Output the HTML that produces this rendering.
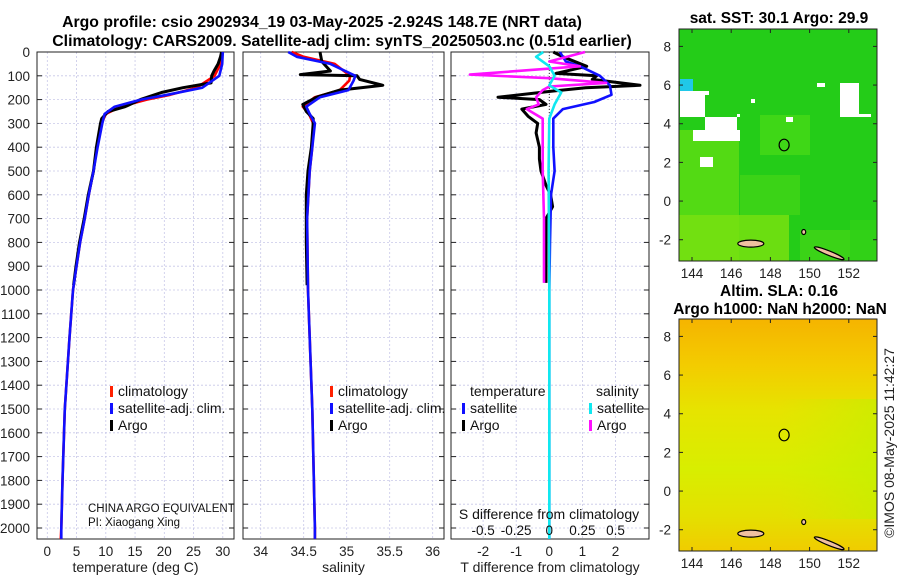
<!DOCTYPE html>
<html><head><meta charset="utf-8">
<style>
body{margin:0;background:#fff;}
svg{font-family:"Liberation Sans","DejaVu Sans",sans-serif;}
</style></head>
<body>
<svg id="c" width="900" height="580" xmlns="http://www.w3.org/2000/svg">
<defs>
<linearGradient id="slaGrad" x1="0" y1="0" x2="0" y2="1">
<stop offset="0" stop-color="#f5b400"/><stop offset="0.2" stop-color="#f3cc00"/><stop offset="0.4" stop-color="#e6e400"/><stop offset="0.65" stop-color="#d8ee00"/><stop offset="0.85" stop-color="#e4e000"/><stop offset="1" stop-color="#f0cc00"/>
</linearGradient>
<linearGradient id="slaRight" x1="0" y1="0" x2="1" y2="0">
<stop offset="0" stop-color="#c8f000" stop-opacity="0"/><stop offset="1" stop-color="#c0f000" stop-opacity="0.6"/>
</linearGradient>
</defs>
<text x="322" y="27" text-anchor="middle" font-size="15.8" font-weight="bold">Argo profile: csio 2902934_19 03-May-2025 -2.924S 148.7E (NRT data)</text>
<text x="342" y="46" text-anchor="middle" font-size="15.8" font-weight="bold">Climatology: CARS2009. Satellite-adj clim: synTS_20250503.nc (0.51d earlier)</text>
<text x="779" y="23" text-anchor="middle" font-size="15.5" font-weight="bold">sat. SST: 30.1 Argo: 29.9</text>
<text x="779" y="296" text-anchor="middle" font-size="15.5" font-weight="bold">Altim. SLA: 0.16</text>
<text x="780" y="314" text-anchor="middle" font-size="15.5" font-weight="bold">Argo h1000: NaN h2000: NaN</text>
<text transform="translate(894,443) rotate(-90)" text-anchor="middle" font-size="14" fill="#222">©IMOS 08-May-2025 11:42:27</text>
<g id="g"></g>
</svg>
<script>
// ---- data ----
const depthTicks=[0,100,200,300,400,500,600,700,800,900,1000,1100,1200,1300,1400,1500,1600,1700,1800,1900,2000];
const tempTicks=[0,5,10,15,20,25,30];
const salTicks=[34,34.5,35,35.5,36];
const diffTicks=[-2,-1,0,1,2];
const sdiffTicks=[-0.5,-0.25,0,0.25,0.5];
const sdiffLabels=["-0.5","-0.25","0","0.25","0.5"];

const argoDepth=[0,20,50,80,100,130,150,170,200,230,250,280,300,400,500,600,700,800,900,980];
const argoTemp=[29.8,29.6,29.2,28.5,28.1,28.0,23.2,19.5,15.9,13.3,10.4,9.3,9.1,8.4,7.9,7.0,6.3,5.5,4.9,4.5];
const climDepth=[0,50,100,150,180,200,230,260,300,400,500,600,700,800,900,1000,1200,1500,1800,2000,2046];
const climTemp=[29.9,29.6,28.6,25.5,21,17,12.5,10,9.3,8.5,7.9,7.1,6.4,5.6,5.0,4.4,3.8,3.0,2.6,2.4,2.3];
const satTemp=[30.0,29.9,29.4,26.5,20.5,16,11.5,9.8,9.4,8.6,7.9,7.1,6.4,5.6,5.0,4.4,3.8,3.0,2.6,2.4,2.4];

const argoSalDepth=[0,40,80,95,100,115,140,160,190,220,250,280,300,400,500,600,800,980];
const argoSal=[34.69,34.71,34.81,34.46,35.12,35.15,35.42,34.92,34.65,34.49,34.53,34.61,34.61,34.59,34.55,34.53,34.53,34.54];
const salDepth=[0,20,50,100,120,160,190,230,260,300,400,500,700,1000,1200,1500,2000,2046];
const climSal=[34.36,34.5,34.86,35.04,35.03,34.92,34.63,34.49,34.56,34.61,34.60,34.57,34.54,34.55,34.57,34.60,34.63,34.63];
const satSal=[34.32,34.42,34.81,35.10,35.08,35.02,34.69,34.53,34.57,34.63,34.60,34.57,34.54,34.55,34.57,34.60,34.63,34.63];

const tdArgoDepth=[0,20,60,90,100,115,140,150,165,190,200,220,240,270,300,340,400,450,500,560,600,650,700,900,970];
const tdArgo=[0.12,0.41,1.13,0.2,1.43,1.3,2.74,1.1,0.05,-1.55,-0.3,-0.1,-0.83,-0.64,-0.35,-0.4,-0.3,-0.3,-0.25,-0.1,0.04,0.1,-0.1,-0.1,-0.1];
const tdSatDepth=[0,40,60,100,140,180,210,240,280,400,500,600,800,1000,1500,2046];
const tdSat=[0.32,0.5,0.93,1.53,1.83,1.88,1.36,0.41,0.12,0.12,0.16,0.05,0.02,0,0,0];
const sdSatDepth=[0,20,60,100,140,170,220,280,500,1000,2046];
const sdSat=[-0.045,-0.1,0,0.04,0,0.09,0.04,0,-0.005,0,0];
const sdArgoDepth=[0,40,60,95,110,130,145,160,190,220,240,280,350,500,700,970];
const sdArgo=[0.27,0,0.23,-0.6,0,0.43,0,-0.05,-0.1,-0.08,-0.17,-0.05,-0.05,-0.05,-0.04,-0.04];

const lonTicks=[144,146,148,150,152];
const latTicks=[-2,0,2,4,6,8];
const floatLon=148.7, floatLat=2.9;

// ---- layout ----
const NS="http://www.w3.org/2000/svg";
const G=document.getElementById('g');
function el(tag,attrs,parent){const e=document.createElementNS(NS,tag);for(const k in attrs)e.setAttribute(k,attrs[k]);(parent||G).appendChild(e);return e;}
const yTop=52,yBot=539;
const yD=d=>yTop+d*0.238;
const panels=[
 {x0:37,x1:234,sx:v=>47.3+v*5.85,ticks:tempTicks,lab:tempTicks.map(String),title:"temperature (deg C)",name:"temperature"},
 {x0:243,x1:444,sx:v=>260.7+(v-34)*86,ticks:salTicks,lab:salTicks.map(String),title:"salinity",name:"salinity"},
 {x0:451,x1:649,sx:v=>549.3+v*33.1,ticks:diffTicks,lab:diffTicks.map(String),title:"T difference from climatology",name:"difference"}
];
panels.forEach((p,i)=>{
  const ax=el('g',{});
  
  
  depthTicks.forEach(d=>{const gl=el('line',{x1:p.x0,x2:p.x1,y1:yD(d),y2:yD(d),stroke:'#c8c8e8','stroke-width':0.8,'stroke-dasharray':'2,2'},ax);
    
    el('line',{x1:p.x0,x2:p.x0+5,y1:yD(d),y2:yD(d),stroke:'#222'},ax);
    el('line',{x1:p.x1-5,x2:p.x1,y1:yD(d),y2:yD(d),stroke:'#222'},ax);});
  p.ticks.forEach((t,j)=>{const x=p.sx(t);
    const gl=el('line',{x1:x,x2:x,y1:yTop,y2:yBot,stroke:'#c8c8e8','stroke-width':0.8,'stroke-dasharray':'2,2'},ax);
    
    const tl=el('text',{x:x,y:556,'text-anchor':'middle','font-size':13.5,fill:'#222'},ax);tl.textContent=p.lab[j];
    });
  const at=el('text',{x:(p.x0+p.x1)/2,y:572,'text-anchor':'middle','font-size':14,fill:'#222'},ax);at.textContent=p.title;
  
  const fr=el('rect',{x:p.x0,y:yTop,width:p.x1-p.x0,height:yBot-yTop,fill:'none',stroke:'#222','stroke-width':1},ax);
  
});
depthTicks.forEach(d=>{const t=el('text',{x:30,y:yD(d)+5,'text-anchor':'end','font-size':13.5,fill:'#222'});t.textContent=d;
  });
const zl=el('line',{x1:panels[2].sx(0),x2:panels[2].sx(0),y1:yTop,y2:yBot,stroke:'#333','stroke-width':1,'stroke-dasharray':'1,2'});


function line(sx,vals,depths,color,name,w){
  const pts=vals.map((v,i)=>sx(v).toFixed(1)+','+yD(depths[i]).toFixed(1)).join(' ');
  const pl=el('polyline',{points:pts,fill:'none',stroke:color,'stroke-width':w||2.6,'stroke-linejoin':'round'});
  
  
}
const P=panels;
line(P[0].sx,climTemp,climDepth,'#ff0000','temp-climatology-line');
line(P[0].sx,argoTemp,argoDepth,'#000000','temp-argo-line',3);
line(P[0].sx,satTemp,climDepth,'#1010ff','temp-satellite-line');
line(P[1].sx,climSal,salDepth,'#ff0000','sal-climatology-line');
line(P[1].sx,argoSal,argoSalDepth,'#000000','sal-argo-line',3);
line(P[1].sx,satSal,salDepth,'#1010ff','sal-satellite-line');
const ssx=v=>549.3+v*132.4;
line(P[2].sx,tdArgo,tdArgoDepth,'#000000','tdiff-argo-line',3);
line(P[2].sx,tdSat,tdSatDepth,'#1010ff','tdiff-satellite-line');
line(ssx,sdArgo,sdArgoDepth,'#ff10ff','sdiff-argo-line');
line(ssx,sdSat,sdSatDepth,'#10e8f0','sdiff-satellite-line');

const sdt=el('text',{x:549,y:519,'text-anchor':'middle','font-size':14,fill:'#111'});sdt.textContent='S difference from climatology';

sdiffTicks.forEach((t,j)=>{const tl=el('text',{x:ssx(t),y:535,'text-anchor':'middle','font-size':13.5,fill:'#111'});tl.textContent=sdiffLabels[j];
  });

function leg(x,y,color,text,name){
  const m=el('rect',{x:x,y:y-10,width:3,height:11,fill:color});
  
  const t=el('text',{x:x+8,y:y,'font-size':14,fill:'#111'});t.textContent=text;
  
}
leg(110,396,'#ff2000','climatology','legend-t-climatology');
leg(110,413,'#1010ff','satellite-adj. clim.','legend-t-satellite');
leg(110,430,'#000','Argo','legend-t-argo');
leg(330,396,'#ff2000','climatology','legend-s-climatology');
leg(330,413,'#1010ff','satellite-adj. clim.','legend-s-satellite');
leg(330,430,'#000','Argo','legend-s-argo');
const lt=el('text',{x:470,y:396,'font-size':14,fill:'#111'});lt.textContent='temperature';

const ls=el('text',{x:596,y:396,'font-size':14,fill:'#111'});ls.textContent='salinity';

leg(462,413,'#1010ff','satellite','legend-td-satellite');
leg(462,430,'#000','Argo','legend-td-argo');
leg(589,413,'#10e8f0','satellite','legend-sd-satellite');
leg(589,430,'#ff10ff','Argo','legend-sd-argo');
const c1=el('text',{x:88,y:512,'font-size':11.5,fill:'#111'});c1.textContent='CHINA ARGO EQUIVALENT';

const c2=el('text',{x:88,y:526,'font-size':11.5,fill:'#111'});c2.textContent='PI: Xiaogang Xing';


// ---- maps ----
const maps=[{x0:679,x1:877,y0:29,y1:261,name:'sst-map'},{x0:679,x1:877,y0:319,y1:551,name:'sla-map'}];
maps.forEach((m,mi)=>{
  const lx=v=>692+(v-144)*19.6;
  const ly=v=>m.y0+(m.y1-m.y0)*((8.9-v)/12.0);
  const g=el('g',{});
  
  
  if(mi===0){
    el('rect',{x:m.x0,y:m.y0,width:m.x1-m.x0,height:m.y1-m.y0,fill:'#24cc18'},g);
    // lighter (warmer) green regions
    [[679,130,60,131,'#5cdc14'],[679,215,110,46,'#78e010'],[740,175,60,40,'#40d418'],[760,115,50,40,'#44d818'],[800,230,77,31,'#40d418'],[850,220,27,41,'#30d018']].forEach(r=>{
      el('rect',{x:r[0],y:r[1],width:r[2],height:r[3],fill:r[4],opacity:0.85},g);});
    el('rect',{x:680,y:79,width:13,height:12,fill:'#20c8e8'},g);
    [[680,91,25,26],[705,117,32,13],[693,130,47,11],[700,157,13,10],[840,83,19,34],[852,114,19,3],[817,83,8,4],[786,117,7,5],[705,91,4,4],[751,99,4,4],[737,114,3,3]].forEach(r=>{
      el('rect',{x:r[0],y:r[1],width:r[2],height:r[3],fill:'#ffffff'},g);});
  } else {
    el('rect',{x:m.x0,y:m.y0,width:m.x1-m.x0,height:m.y1-m.y0,fill:'url(#slaGrad)'},g);
    el('rect',{x:780,y:m.y0+80,width:97,height:120,fill:'url(#slaRight)'},g);
  }
  el('ellipse',{cx:lx(147),cy:ly(-2.2),rx:13,ry:3.5,fill:'#f0c0a0',stroke:'#000','stroke-width':1.2},g);
  el('ellipse',{cx:lx(151),cy:ly(-2.7),rx:16,ry:2.2,fill:'#f0c0a0',stroke:'#000','stroke-width':1.2,transform:`rotate(22 ${lx(151)} ${ly(-2.7)})`},g);
  el('ellipse',{cx:lx(149.7),cy:ly(-1.6),rx:2,ry:2.5,fill:'#f0c0a0',stroke:'#000','stroke-width':1.2},g);
  const fm=el('ellipse',{cx:lx(floatLon),cy:ly(floatLat),rx:5,ry:5.8,fill:'none',stroke:'#000','stroke-width':1.2},g);
  
  
  lonTicks.forEach(t=>{
    el('line',{x1:lx(t),x2:lx(t),y1:m.y1,y2:m.y1-4,stroke:'#222'},g);
    el('line',{x1:lx(t),x2:lx(t),y1:m.y0,y2:m.y0+4,stroke:'#222'},g);
    const tl=el('text',{x:lx(t),y:m.y1+17,'text-anchor':'middle','font-size':13.5,fill:'#222'},g);tl.textContent=t;
    });
  latTicks.forEach(t=>{
    el('line',{x1:m.x0,x2:m.x0+4,y1:ly(t),y2:ly(t),stroke:'#222'},g);
    el('line',{x1:m.x1,x2:m.x1-4,y1:ly(t),y2:ly(t),stroke:'#222'},g);
    const tl=el('text',{x:m.x0-8,y:ly(t)+5,'text-anchor':'end','font-size':13.5,fill:'#222'},g);tl.textContent=t;
    });
  el('rect',{x:m.x0,y:m.y0,width:m.x1-m.x0,height:m.y1-m.y0,fill:'none',stroke:'#222'},g);
});
</script>
</body></html>
